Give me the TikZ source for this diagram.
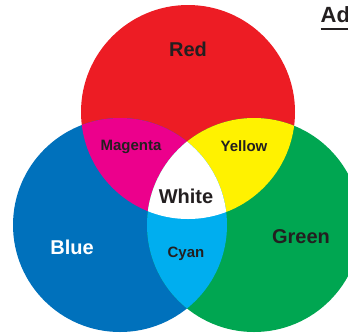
\documentclass[tikz,border=0pt]{standalone}
\usepackage{fontspec}
\setmainfont{Liberation Sans}
\definecolor{cRed}{HTML}{ED1C24}
\definecolor{cBlue}{HTML}{0071BC}
\definecolor{cGreen}{HTML}{00A651}
\definecolor{cMag}{HTML}{EC008C}
\definecolor{cYel}{HTML}{FFF200}
\definecolor{cCyan}{HTML}{00AEEF}
\definecolor{cText}{HTML}{231F20}
\begin{document}
\begin{tikzpicture}[x=1pt,y=-1pt,
  lbl/.style={font=\bfseries\fontsize{#1}{#1}\selectfont, text=cText, inner sep=0pt},
  lbl/.default=20]
\clip (0,0) rectangle (348,333);
\fill[white] (0,0) rectangle (348,333);
\def\R{107}
\coordinate (cr) at (188,112);
\coordinate (cb) at (120,225);
\coordinate (cg) at (254,225);
\fill[cRed] (cr) circle[radius=\R];
\fill[cBlue] (cb) circle[radius=\R];
\fill[cGreen] (cg) circle[radius=\R];
\begin{scope}
  \clip (cr) circle[radius=\R];
  \fill[cMag] (cb) circle[radius=\R];
  \fill[cYel] (cg) circle[radius=\R];
\end{scope}
\begin{scope}
  \clip (cb) circle[radius=\R];
  \fill[cCyan] (cg) circle[radius=\R];
  \clip (cg) circle[radius=\R];
  \fill[white] (cr) circle[radius=\R];
\end{scope}
\node[lbl] (red) at (188,49) {Red};
\node[lbl, text=white] (blue) at (72,247) {Blue};
\node[lbl] (green) at (301,237) {Green};
\node[lbl] (white) at (186,196) {White};
\node[lbl=15] (magenta) at (131,147) {Magenta};
\node[lbl=15] (yellow) at (244,146) {Yellow};
\node[lbl=15, anchor=base] (cyan) at (186,257) {Cyan};
\node[lbl=22, anchor=base west] (title) at (320.5,22) {Ad};
\draw[cText, line width=2pt] (title.base west) ++(0,7) coordinate (ul) -- (ul -| 348,0);
\end{tikzpicture}
\end{document}
